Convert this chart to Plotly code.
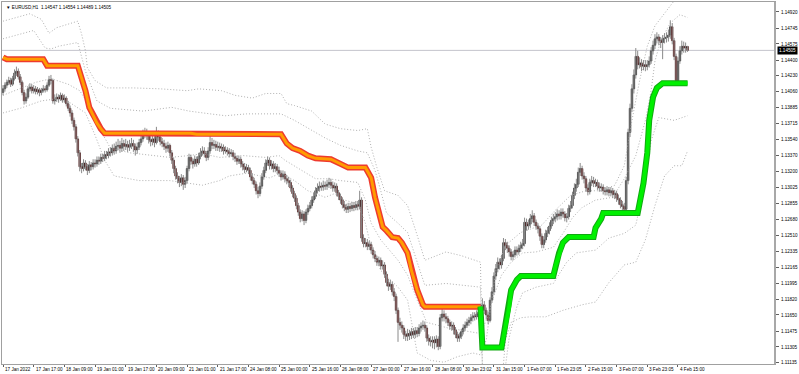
import plotly.graph_objects as go

# ---------------- data (EURUSD H1) ----------------
closes = [
 1.1409,1.1413,1.1416,1.1418,1.1414,1.1420,1.1426,1.1428,1.1422,1.1416,1.1405,1.1396,1.1400,1.1409,1.1411,1.1407,
 1.1409,1.1406,1.1408,1.1405,1.1407,1.1409,1.1408,1.1413,1.1419,1.1418,1.1396,1.1398,1.1400,1.1398,1.1402,1.1397,
 1.1399,1.1393,1.1388,1.1383,1.1375,1.1368,1.1355,1.1340,1.1325,1.1323,1.1329,1.1325,1.1321,1.1327,1.1325,1.1329,
 1.1328,1.1332,1.1331,1.1335,1.1334,1.1338,1.1337,1.1341,1.1340,1.1345,1.1342,1.1347,1.1348,1.1345,1.1350,1.1347,
 1.1349,1.1346,1.1348,1.1350,1.1347,1.1343,1.1346,1.1351,1.1355,1.1360,1.1363,1.1359,1.1354,1.1352,1.1355,1.1351,
 1.1361,1.1357,1.1352,1.1350,1.1347,1.1345,1.1348,1.1340,1.1332,1.1323,1.1315,1.1312,1.1308,1.1313,1.1306,1.1310,
 1.1323,1.1335,1.1331,1.1328,1.1333,1.1329,1.1336,1.1340,1.1342,1.1339,1.1335,1.1342,1.1351,1.1348,1.1349,1.1346,
 1.1347,1.1345,1.1346,1.1342,1.1343,1.1341,1.1339,1.1340,1.1336,1.1334,1.1331,1.1333,1.1328,1.1325,1.1322,1.1324,
 1.1321,1.1314,1.1310,1.1306,1.1299,1.1296,1.1304,1.1314,1.1321,1.1329,1.1332,1.1326,1.1328,1.1323,1.1325,1.1321,
 1.1318,1.1314,1.1317,1.1312,1.1310,1.1308,1.1302,1.1296,1.1291,1.1283,1.1276,1.1269,1.1274,1.1267,1.1276,1.1280,
 1.1283,1.1289,1.1293,1.1299,1.1302,1.1304,1.1303,1.1305,1.1304,1.1306,1.1308,1.1305,1.1302,1.1304,1.1297,1.1293,
 1.1289,1.1284,1.1281,1.1279,1.1282,1.1280,1.1283,1.1281,1.1284,1.1282,1.1289,1.1248,1.1242,1.1243,1.1239,1.1241,
 1.1235,1.1230,1.1226,1.1222,1.1224,1.1218,1.1219,1.1209,1.1200,1.1196,1.1198,1.1190,1.1185,1.1170,1.1157,1.1154,
 1.1151,1.1144,1.1142,1.1145,1.1143,1.1147,1.1144,1.1148,1.1145,1.1151,1.1153,1.1154,1.1151,1.1140,1.1137,1.1136,
 1.1138,1.1135,1.1139,1.1131,1.1162,1.1166,1.1163,1.1161,1.1157,1.1153,1.1154,1.1149,1.1144,1.1140,1.1142,1.1147,
 1.1151,1.1154,1.1157,1.1159,1.1162,1.1164,1.1163,1.1166,1.1168,1.1172,1.1176,1.1170,1.1165,1.1159,1.1181,1.1190,
 1.1207,1.1215,1.1222,1.1219,1.1226,1.1243,1.1240,1.1237,1.1233,1.1228,1.1230,1.1235,1.1233,1.1237,1.1240,1.1242,
 1.1265,1.1261,1.1263,1.1269,1.1272,1.1265,1.1261,1.1258,1.1250,1.1241,1.1246,1.1253,1.1256,1.1261,1.1267,1.1269,
 1.1271,1.1274,1.1272,1.1276,1.1274,1.1270,1.1271,1.1280,1.1283,1.1294,1.1302,1.1306,1.1319,1.1323,1.1315,1.1312,
 1.1302,1.1298,1.1308,1.1310,1.1307,1.1308,1.1304,1.1302,1.1303,1.1299,1.1298,1.1300,1.1297,1.1299,1.1295,1.1296,
 1.1291,1.1289,1.1284,1.1282,1.1279,1.1310,1.1362,1.1388,1.1409,1.1424,1.1444,1.1435,1.1437,1.1433,1.1435,1.1433,
 1.1435,1.1439,1.1450,1.1456,1.1463,1.1465,1.1461,1.1459,1.1463,1.1464,1.1465,1.1467,1.1476,1.1461,1.1444,1.1418,
 1.1439,1.1450,1.1455,1.1453,1.14547,1.14505,
]
highs = [
 1.1413,1.1416,1.1419,1.1422,1.1421,1.1423,1.1430,1.1433,1.1431,1.1425,1.1418,1.1408,1.1404,1.1412,1.1415,1.1414,
 1.1413,1.1412,1.1411,1.1410,1.1410,1.1413,1.1412,1.1416,1.1423,1.1424,1.1420,1.1403,1.1404,1.1403,1.1405,1.1404,
 1.1403,1.1401,1.1396,1.1391,1.1386,1.1378,1.1371,1.1358,1.1343,1.1329,1.1333,1.1332,1.1328,1.1331,1.1330,1.1333,
 1.1333,1.1336,1.1336,1.1339,1.1339,1.1342,1.1342,1.1345,1.1346,1.1349,1.1350,1.1352,1.1355,1.1353,1.1356,1.1354,
 1.1355,1.1353,1.1354,1.1356,1.1354,1.1350,1.1351,1.1355,1.1360,1.1365,1.1367,1.1366,1.1362,1.1358,1.1359,1.1358,
 1.1368,1.1364,1.1360,1.1356,1.1354,1.1351,1.1352,1.1350,1.1343,1.1335,1.1326,1.1319,1.1315,1.1317,1.1316,1.1314,
 1.1326,1.1339,1.1338,1.1334,1.1337,1.1336,1.1340,1.1345,1.1347,1.1346,1.1342,1.1346,1.1361,1.1356,1.1354,1.1353,
 1.1352,1.1351,1.1350,1.1349,1.1347,1.1346,1.1345,1.1344,1.1343,1.1340,1.1337,1.1337,1.1336,1.1331,1.1329,1.1328,
 1.1327,1.1324,1.1318,1.1313,1.1309,1.1303,1.1308,1.1318,1.1325,1.1333,1.1336,1.1335,1.1332,1.1331,1.1329,1.1328,
 1.1325,1.1321,1.1321,1.1320,1.1316,1.1314,1.1311,1.1305,1.1299,1.1294,1.1286,1.1279,1.1278,1.1277,1.1279,1.1284,
 1.1287,1.1293,1.1297,1.1303,1.1307,1.1309,1.1308,1.1310,1.1309,1.1311,1.1313,1.1312,1.1309,1.1308,1.1307,1.1300,
 1.1296,1.1292,1.1288,1.1285,1.1286,1.1286,1.1287,1.1287,1.1288,1.1288,1.1299,1.1292,1.1252,1.1248,1.1247,1.1245,
 1.1244,1.1238,1.1234,1.1229,1.1228,1.1227,1.1224,1.1222,1.1212,1.1204,1.1203,1.1201,1.1194,1.1188,1.1173,1.1162,
 1.1158,1.1154,1.1148,1.1150,1.1149,1.1151,1.1151,1.1152,1.1152,1.1155,1.1157,1.1159,1.1158,1.1154,1.1144,1.1142,
 1.1142,1.1142,1.1143,1.1142,1.1166,1.1172,1.1170,1.1167,1.1164,1.1160,1.1158,1.1157,1.1152,1.1147,1.1146,1.1150,
 1.1155,1.1158,1.1161,1.1163,1.1166,1.1168,1.1168,1.1170,1.1172,1.1177,1.1183,1.1180,1.1173,1.1168,1.1184,1.1195,
 1.1211,1.1220,1.1227,1.1226,1.1230,1.1248,1.1247,1.1244,1.1240,1.1236,1.1234,1.1239,1.1239,1.1241,1.1244,1.1247,
 1.1270,1.1269,1.1268,1.1274,1.1278,1.1275,1.1268,1.1264,1.1261,1.1253,1.1250,1.1257,1.1260,1.1265,1.1271,1.1274,
 1.1276,1.1279,1.1278,1.1280,1.1280,1.1277,1.1275,1.1284,1.1288,1.1298,1.1307,1.1312,1.1324,1.1329,1.1326,1.1319,
 1.1315,1.1306,1.1312,1.1315,1.1314,1.1312,1.1311,1.1308,1.1307,1.1306,1.1303,1.1304,1.1303,1.1303,1.1302,1.1300,
 1.1299,1.1295,1.1292,1.1288,1.1286,1.1314,1.1366,1.1393,1.1414,1.1430,1.1453,1.1450,1.1443,1.1441,1.1440,1.1440,
 1.1440,1.1444,1.1454,1.1461,1.1468,1.1470,1.1468,1.1465,1.1467,1.1469,1.1470,1.1473,1.1483,1.1480,1.1464,1.1447,
 1.1443,1.1455,1.1461,1.1460,1.1459,1.14554,
]
lows = [
 1.1402,1.1406,1.1410,1.1413,1.1411,1.1412,1.1418,1.1423,1.1419,1.1413,1.1402,1.1392,1.1393,1.1398,1.1406,1.1404,
 1.1404,1.1403,1.1403,1.1401,1.1402,1.1405,1.1405,1.1406,1.1411,1.1414,1.1393,1.1392,1.1395,1.1394,1.1396,1.1394,
 1.1394,1.1390,1.1385,1.1379,1.1371,1.1364,1.1351,1.1336,1.1320,1.1318,1.1320,1.1321,1.1316,1.1318,1.1321,1.1322,
 1.1324,1.1325,1.1327,1.1328,1.1330,1.1331,1.1333,1.1334,1.1336,1.1337,1.1338,1.1339,1.1343,1.1340,1.1341,1.1342,
 1.1343,1.1341,1.1342,1.1344,1.1341,1.1337,1.1339,1.1343,1.1348,1.1352,1.1356,1.1354,1.1350,1.1347,1.1348,1.1346,
 1.1349,1.1353,1.1348,1.1346,1.1343,1.1340,1.1341,1.1336,1.1328,1.1318,1.1311,1.1307,1.1303,1.1304,1.1300,1.1302,
 1.1307,1.1320,1.1327,1.1323,1.1325,1.1325,1.1327,1.1333,1.1337,1.1335,1.1331,1.1332,1.1339,1.1344,1.1344,1.1342,
 1.1342,1.1341,1.1341,1.1338,1.1339,1.1337,1.1335,1.1336,1.1332,1.1330,1.1327,1.1328,1.1324,1.1321,1.1318,1.1319,
 1.1317,1.1310,1.1306,1.1302,1.1295,1.1291,1.1293,1.1301,1.1311,1.1318,1.1326,1.1322,1.1322,1.1319,1.1319,1.1317,
 1.1314,1.1310,1.1311,1.1308,1.1306,1.1303,1.1298,1.1292,1.1287,1.1279,1.1272,1.1265,1.1266,1.1262,1.1264,1.1273,
 1.1277,1.1280,1.1286,1.1290,1.1296,1.1298,1.1299,1.1299,1.1300,1.1300,1.1302,1.1301,1.1298,1.1298,1.1293,1.1289,
 1.1285,1.1280,1.1277,1.1275,1.1275,1.1276,1.1277,1.1277,1.1278,1.1278,1.1279,1.1244,1.1238,1.1238,1.1235,1.1235,
 1.1231,1.1226,1.1222,1.1218,1.1218,1.1214,1.1214,1.1205,1.1196,1.1191,1.1192,1.1186,1.1180,1.1166,1.1136,1.1149,
 1.1146,1.1139,1.1137,1.1137,1.1138,1.1139,1.1140,1.1140,1.1141,1.1142,1.1147,1.1149,1.1147,1.1136,1.1132,1.1131,
 1.1129,1.1128,1.1130,1.1127,1.1128,1.1158,1.1158,1.1156,1.1153,1.1149,1.1148,1.1144,1.1140,1.1136,1.1136,1.1139,
 1.1144,1.1148,1.1151,1.1153,1.1155,1.1158,1.1159,1.1160,1.1162,1.1165,1.1169,1.1166,1.1160,1.1155,1.1157,1.1178,
 1.1187,1.1203,1.1211,1.1214,1.1215,1.1223,1.1235,1.1232,1.1228,1.1224,1.1224,1.1227,1.1229,1.1230,1.1233,1.1236,
 1.1239,1.1256,1.1257,1.1259,1.1265,1.1261,1.1257,1.1253,1.1245,1.1237,1.1237,1.1243,1.1249,1.1252,1.1258,1.1263,
 1.1265,1.1267,1.1268,1.1268,1.1270,1.1266,1.1265,1.1268,1.1276,1.1280,1.1290,1.1298,1.1303,1.1315,1.1311,1.1307,
 1.1298,1.1294,1.1295,1.1304,1.1303,1.1303,1.1300,1.1298,1.1298,1.1295,1.1294,1.1294,1.1293,1.1293,1.1291,1.1290,
 1.1287,1.1284,1.1280,1.1277,1.1275,1.1276,1.1306,1.1357,1.1384,1.1404,1.1420,1.1430,1.1431,1.1428,1.1429,1.1428,
 1.1429,1.1432,1.1436,1.1446,1.1452,1.1458,1.1456,1.1453,1.1441,1.1458,1.1459,1.1460,1.1463,1.1457,1.1440,1.1415,
 1.1416,1.1436,1.1446,1.1448,1.1448,1.14489,
]
first_open = 1.1405
opens = [first_open] + closes[:-1]
bars = list(range(len(closes)))

x_tick_bars = list(range(0, 353, 16))
x_tick_labels = ["17 Jan 2022", "17 Jan 17:00", "18 Jan 09:00", "19 Jan 01:00", "19 Jan 17:00",
                 "20 Jan 09:00", "21 Jan 01:00", "21 Jan 17:00", "24 Jan 08:00", "25 Jan 00:00",
                 "25 Jan 16:00", "26 Jan 08:00", "27 Jan 00:00", "27 Jan 16:00", "28 Jan 08:00",
                 "30 Jan 23:02", "31 Jan 15:00", "1 Feb 07:00", "1 Feb 23:05", "2 Feb 15:00",
                 "3 Feb 07:00", "3 Feb 23:05", "4 Feb 15:00"]

y_tick_vals = [1.14920, 1.14745, 1.14575, 1.14400, 1.14230, 1.14060, 1.13885, 1.13715,
               1.13540, 1.13370, 1.13200, 1.13025, 1.12855, 1.12680, 1.12510, 1.12335,
               1.12165, 1.11995, 1.11820, 1.11650, 1.11475, 1.11305, 1.11135]
y_tick_text = ["%.5f" % v for v in y_tick_vals]

last_price = 1.14505
header = "\u25bc EURUSD,H1  1.14547 1.14554 1.14489 1.14505"

# trailing stop (bar index, price)
stop_down = [(0,1.1443),(2,1.1441),(21,1.1441),(23,1.1434),(39,1.1434),(41,1.1421),(43,1.1407),
             (45,1.1389),(49,1.1372),(51,1.1366),(53,1.1361),(98,1.1361),(101,1.1360),(145,1.1360),
             (148,1.1350),(151,1.1345),(155,1.1342),(159,1.1337),(163,1.1334),(171,1.1333),
             (176,1.1328),(180,1.1324),(189,1.1324),(192,1.1313),(194,1.1292),(197,1.1270),
             (198,1.1260),(200,1.1256),(203,1.1249),(206,1.1248),(208,1.1243),(211,1.1232),
             (213,1.1213),(216,1.1192),(219,1.1176),(220,1.1174),(249,1.1174)]
stop_up = [(249,1.1174),(250,1.1130),(260,1.1130),(262,1.1152),(264,1.1174),(265,1.1192),
           (268,1.1203),(270,1.1207),(287,1.1207),(288,1.1217),(290,1.1232),(292,1.1243),
           (295,1.1249),(308,1.1249),(309,1.1259),(312,1.1269),(313,1.1275),(331,1.1275),
           (334,1.1307),(336,1.1340),(337,1.1375),(339,1.1400),(341,1.1410),(344,1.1415),(357,1.1415)]

# dotted channel lines (bar index, price)
band_a = [(0,1.1482),(14,1.1490),(20,1.1484),(24,1.1469),(28,1.1475),(34,1.1479),(39,1.1482),
          (41,1.1468),(43,1.1450),(44,1.1432),(48,1.1418),(54,1.1410),(68,1.1410),(82,1.1409),
          (96,1.1407),(102,1.1409),(114,1.1407),(121,1.1402),(130,1.1399),(137,1.1404),(145,1.1404),
          (148,1.1393),(152,1.1391),(161,1.1385),(168,1.1371),(176,1.1366),(185,1.1364),(190,1.1366),
          (192,1.1346),(195,1.1324),(199,1.1299),(206,1.1294),(211,1.1283),(216,1.1251),(220,1.1224),
          (231,1.1233),(239,1.1229),(249,1.1222),(250,1.1108),(257,1.1108),(261,1.1112),(262,1.1138),
          (265,1.1157),(270,1.1162),(275,1.1163),(283,1.1163),(292,1.1170),(302,1.1176),(309,1.1179),
          (316,1.1200),(324,1.1219),(330,1.1222),(335,1.1246),(340,1.1283),(345,1.1315),(350,1.1326),
          (354,1.1326),(357,1.1342)]
band_b = [(0,1.1463),(9,1.1468),(16,1.1472),(22,1.1453),(25,1.1452),(29,1.1455),(39,1.1459),
          (43,1.1428),(49,1.1396),(56,1.1388),(73,1.1385),(88,1.1389),(97,1.1385),(108,1.1382),
          (116,1.1380),(127,1.1382),(145,1.1382),(152,1.1375),(159,1.1367),(168,1.1356),(176,1.1348),
          (185,1.1342),(190,1.1340),(194,1.1321),(197,1.1299),(200,1.1275),(206,1.1264),(211,1.1254),
          (216,1.1222),(220,1.1197),(231,1.1199),(249,1.1195),(250,1.1108),(260,1.1108),(262,1.1109),
          (264,1.1141),(268,1.1174),(271,1.1189),(278,1.1195),(287,1.1199),(294,1.1222),(299,1.1232),
          (309,1.1235),(316,1.1248),(324,1.1253),(330,1.1262),(335,1.1310),(338,1.1353),(342,1.1378),
          (350,1.1375),(357,1.1380)]
band_c = [(0,1.1402),(9,1.1409),(17,1.1416),(25,1.1420),(34,1.1414),(40,1.1407),(47,1.1385),
          (51,1.1364),(56,1.1345),(66,1.1340),(87,1.1335),(97,1.1337),(104,1.1339),(113,1.1335),
          (125,1.1337),(137,1.1335),(144,1.1337),(147,1.1332),(156,1.1321),(163,1.1312),(170,1.1312),
          (176,1.1310),(185,1.1308),(189,1.1289),(192,1.1264),(197,1.1246),(206,1.1224),(211,1.1208),
          (216,1.1181),(221,1.1157),(232,1.1151),(249,1.1145),(252,1.1159),(256,1.1186),(260,1.1208),
          (265,1.1222),(271,1.1232),(278,1.1233),(287,1.1238),(292,1.1253),(297,1.1270),(302,1.1281),
          (309,1.1289),(318,1.1292),(324,1.1312),(330,1.1337),(335,1.1375),(338,1.1407),(340,1.1439),
          (343,1.1461),(348,1.1480),(353,1.1489),(357,1.1486)]
band_d = [(0,1.1383),(9,1.1388),(20,1.1396),(27,1.1398),(35,1.1394),(43,1.1383),(48,1.1359),
          (53,1.1332),(58,1.1315),(71,1.1310),(87,1.1310),(96,1.1307),(104,1.1305),(113,1.1310),
          (118,1.1315),(127,1.1318),(135,1.1315),(139,1.1313),(145,1.1318),(152,1.1310),(159,1.1299),
          (168,1.1292),(173,1.1296),(178,1.1289),(185,1.1285),(189,1.1264),(192,1.1238),(197,1.1213),
          (206,1.1195),(211,1.1181),(216,1.1124),(223,1.1116),(230,1.1114),(237,1.1120),(245,1.1124),
          (249,1.1122),(252,1.1138),(257,1.1213),(262,1.1240),(270,1.1254),(281,1.1262),(288,1.1278),
          (296,1.1294),(304,1.1299),(312,1.1299),(319,1.1305),(324,1.1326),(328,1.1375),(332,1.1418),
          (336,1.1455),(340,1.1477),(345,1.1491),(350,1.1504),(356,1.1515)]

# ---------------- figure ----------------
fig = go.Figure()

for band in (band_a, band_b, band_c, band_d):
    fig.add_trace(go.Scatter(x=[p[0] for p in band], y=[p[1] for p in band], mode="lines",
                             line=dict(color="#b0b0b0", width=1, dash="1px,2px"), hoverinfo="skip"))

# candle wicks
wx, wy = [], []
for i, h, l in zip(bars, highs, lows):
    wx += [i, i, None]
    wy += [l, h, None]
fig.add_trace(go.Scatter(x=wx, y=wy, mode="lines", line=dict(color="#8a8a8a", width=1),
                         hoverinfo="skip"))

# candle bodies
up_x, up_base, up_h, dn_x, dn_base, dn_h = [], [], [], [], [], []
for i, o, c in zip(bars, opens, closes):
    if c >= o:
        up_x.append(i); up_base.append(o); up_h.append(max(c - o, 0.00003))
    else:
        dn_x.append(i); dn_base.append(c); dn_h.append(o - c)
fig.add_trace(go.Bar(x=up_x, y=up_h, base=up_base, width=0.85,
                     marker=dict(color="#4a4a4a", line=dict(color="#151515", width=0.6)),
                     hoverinfo="skip"))
fig.add_trace(go.Bar(x=dn_x, y=dn_h, base=dn_base, width=0.85,
                     marker=dict(color="#7c0c0c", line=dict(color="#2a0606", width=0.6)),
                     hoverinfo="skip"))

fig.add_trace(go.Scatter(x=[p[0] for p in stop_down], y=[p[1] for p in stop_down], mode="lines",
                         line=dict(color="#ee3a2e", width=6), hoverinfo="skip"))
fig.add_trace(go.Scatter(x=[p[0] for p in stop_down], y=[p[1] for p in stop_down], mode="lines",
                         line=dict(color="#ff9c00", width=3), hoverinfo="skip"))
fig.add_trace(go.Scatter(x=[p[0] for p in stop_up], y=[p[1] for p in stop_up], mode="lines",
                         line=dict(color="#12a812", width=6), hoverinfo="skip"))
fig.add_trace(go.Scatter(x=[p[0] for p in stop_up], y=[p[1] for p in stop_up], mode="lines",
                         line=dict(color="#00f000", width=4), hoverinfo="skip"))

fig.add_shape(type="line", xref="paper", x0=0, x1=1, yref="y", y0=last_price, y1=last_price,
              line=dict(color="#c4c4cc", width=1), layer="below")

small = dict(family="Liberation Sans", size=4.6, color="#000000")

annotations = []
for b, t in zip(x_tick_bars, x_tick_labels):
    annotations.append(dict(x=b, y=0, xref="x", yref="paper", text=t, showarrow=False,
                            xanchor="left", yanchor="top", xshift=0, yshift=-1, font=small))
annotations.append(dict(x=1, y=last_price, xref="paper", yref="y", text="%.5f" % last_price,
                        showarrow=False, xanchor="left", yanchor="middle", xshift=2,
                        bgcolor="#000000", borderpad=1,
                        font=dict(family="Liberation Sans", size=4.6, color="#ffffff")))
annotations.append(dict(x=0, y=1, xref="paper", yref="paper", text=header, showarrow=False,
                        xanchor="left", yanchor="top", xshift=2, yshift=-1, font=small))

fig.update_layout(
    width=799, height=374,
    margin=dict(l=1, r=18, t=1, b=10),
    paper_bgcolor="white", plot_bgcolor="white",
    showlegend=False, barmode="overlay",
    annotations=annotations,
    xaxis=dict(range=[-0.52, 402.6], showgrid=False, zeroline=False,
               showline=True, mirror=True, linecolor="#a0a0a0", linewidth=1,
               ticks="outside", ticklen=2, tickcolor="#606060",
               tickvals=x_tick_bars, showticklabels=False, fixedrange=True),
    yaxis=dict(side="right", range=[1.11121, 1.15027], showgrid=False, zeroline=False,
               showline=True, mirror=True, linecolor="#a0a0a0", linewidth=1,
               ticks="outside", ticklen=3, tickcolor="#606060",
               tickvals=y_tick_vals, ticktext=y_tick_text, tickfont=small,
               ticklabelstandoff=1, fixedrange=True),
)
fig.add_shape(type="line", xref="paper", yref="paper", x0=1, x1=1, y0=0, y1=1,
              line=dict(color="#a8a8a8", width=2))

fig.write_html("out.html")
